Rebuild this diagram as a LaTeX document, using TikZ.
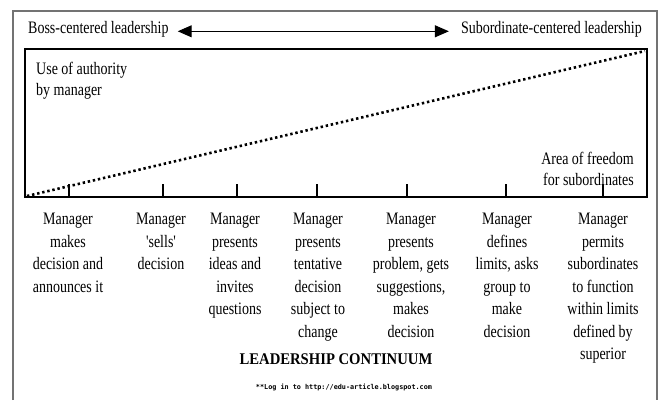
\documentclass[tikz,border=0pt]{standalone}
\usepackage{fontspec}
\setmainfont{Liberation Serif}[FakeStretch=0.8]
\newfontfamily\headfont{Liberation Serif}[FakeStretch=0.9]
\newfontfamily\linkfont{DejaVu Sans Mono}
\usetikzlibrary{arrows.meta}
\usetikzlibrary{positioning}

\tikzset{
  choice/.style={font=\fontsize{17.5}{22.5}\selectfont, align=center,
    inner sep=0pt, anchor=north},
  headtext/.style={font=\fontsize{17.5}{22}\selectfont, inner sep=0pt},
  corner/.style={font=\fontsize{17.5}{21.5}\selectfont, inner sep=0pt},
  biarrow/.style={{Triangle[length=14pt,width=12pt]}-{Triangle[length=14pt,width=12pt]},
    line width=1pt},
  freedom/.style={line width=2.6pt, dash pattern=on 2.4pt off 2.8pt},
  tickmark/.style={line width=1.8pt}
}

\begin{document}
\begin{tikzpicture}[x=1pt,y=-1pt]

  \useasboundingbox (0,0) rectangle (659,400);

  % outer frame, open at the bottom
  \draw [black!55, line width=1.3pt] (13,400) -- (13,11) -- (657,11) -- (657,400);

  % the two ends of the scale
  \node [headtext, anchor=base west] (boss) at (28,33) {Boss-centered leadership};
  \node [headtext, anchor=base east] (sub) at (642,33) {Subordinate-centered leadership};
  \draw [biarrow, shorten <=9pt, shorten >=12pt, transform canvas={yshift=-2.5pt}]
    (boss) -- (sub);

  % the box split by the diagonal
  \coordinate (BoxNW) at (25,49);
  \coordinate (BoxSE) at (647,197);
  \coordinate (DiagStart) at (27,196);
  \coordinate (DiagEnd) at (645,51);
  \draw [line width=2pt] (BoxNW) rectangle (BoxSE);
  \draw [freedom] (DiagStart) -- (DiagEnd);

  \node [corner, align=left, anchor=north west] (authority) at (36,61.5)
    {Use of authority\\by manager};
  \node [corner, align=right, anchor=north east] (area) at (634,151.5)
    {Area of freedom\\for subordinates};

  % ticks along the bottom edge
  \foreach \x [count=\i] in {69,163,237,317,407,506,603}
  {
    \coordinate (tick\i) at (\x,197);
    \draw [tickmark] (tick\i) -- ++(0,-13);
  }

  % the seven behaviours
  \node [choice] (col1) at (68,213) {Manager\\makes\\decision and\\announces it};
  \node [choice] (col2) at (161,213)
    {Manager\\{\addfontfeatures{Ligatures=TeXOff}'sells'}\\decision};
  \node [choice] (col3) at (235,213) {Manager\\presents\\ideas and\\invites\\questions};
  \node [choice] (col4) at (318,213) {Manager\\presents\\tentative\\decision\\subject to\\change};
  \node [choice] (col5) at (411,213) {Manager\\presents\\problem, gets\\suggestions,\\makes\\decision};
  \node [choice] (col6) at (507,213) {Manager\\defines\\limits, asks\\group to\\make\\decision};
  \node [choice] (col7) at (603,213) {Manager\\permits\\subordinates\\to function\\within limits\\defined by\\superior};

  \node [font=\fontsize{16.3}{18}\headfont\bfseries, inner sep=0pt, anchor=base]
    (title) at (336,364) {LEADERSHIP CONTINUUM};
  \node [font=\fontsize{6.8}{8}\linkfont\bfseries, inner sep=0pt, anchor=base]
    (credit) at (344,389) {**Log in to http://edu-article.blogspot.com};

\end{tikzpicture}
\end{document}
